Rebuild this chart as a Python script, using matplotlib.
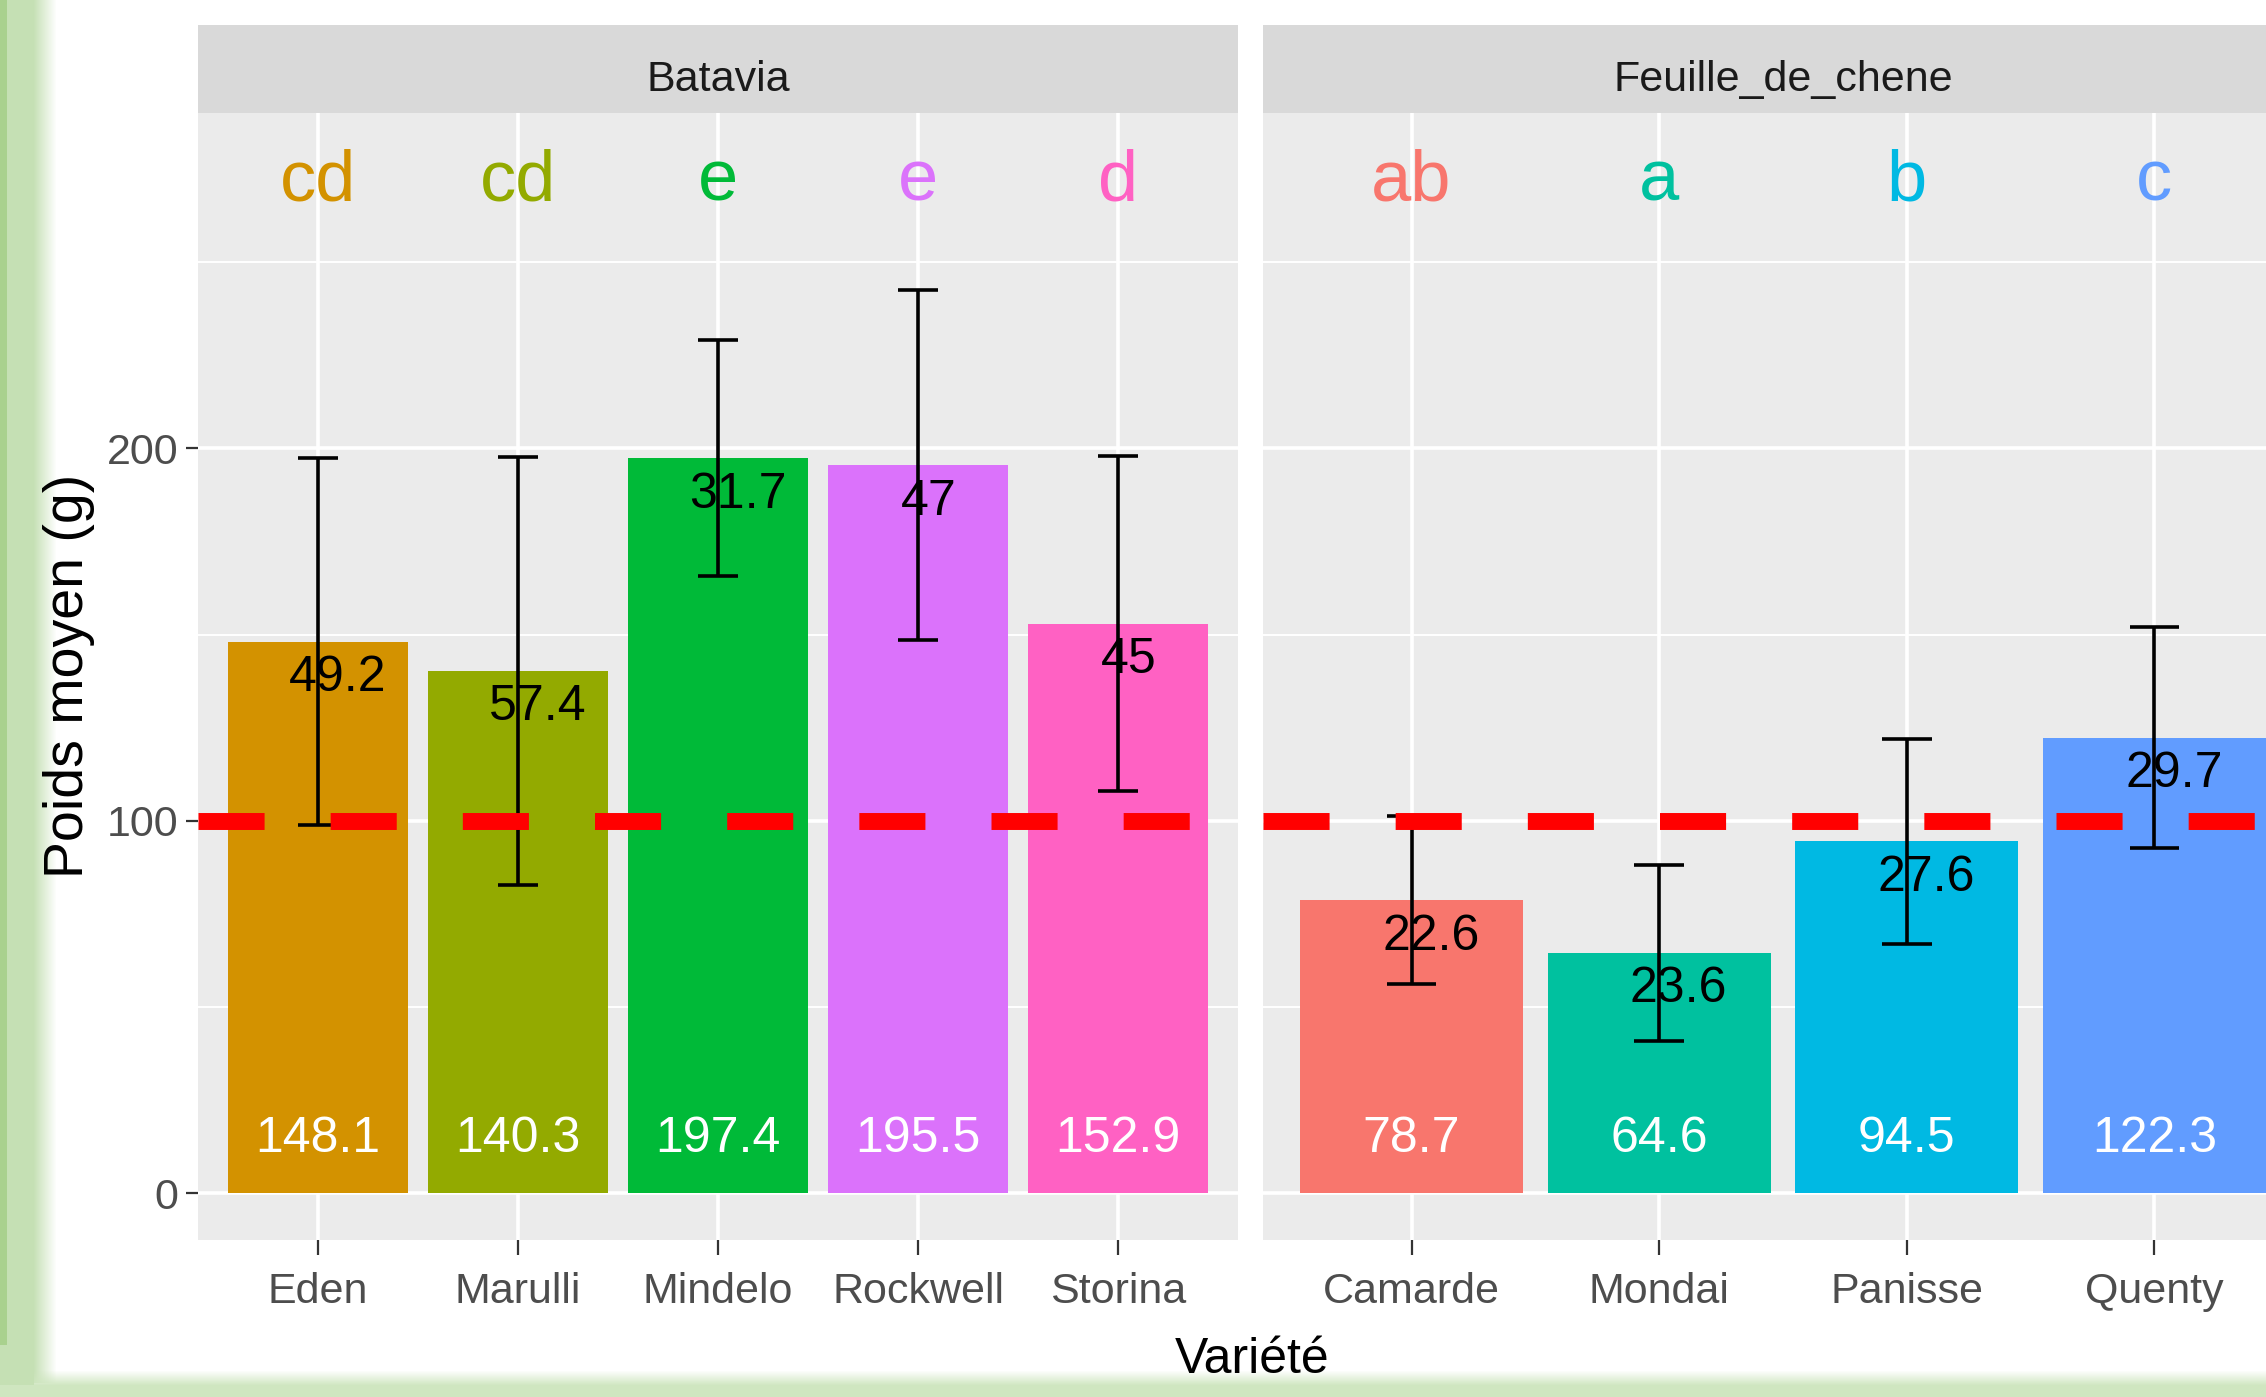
import matplotlib
matplotlib.use("Agg")
import matplotlib.pyplot as plt
from matplotlib.patches import Rectangle
from matplotlib.transforms import ScaledTranslation

plt.rcParams["font.family"] = ["Liberation Sans", "DejaVu Sans"]

# --- data -------------------------------------------------------------
batavia_varieties = ["Eden", "Marulli", "Mindelo", "Rockwell", "Storina"]
batavia_means = [148.1, 140.3, 197.4, 195.5, 152.9]
batavia_sds = [49.2, 57.4, 31.7, 47, 45]
batavia_letters = ["cd", "cd", "e", "e", "d"]

feuille_varieties = ["Camarde", "Mondai", "Panisse", "Quenty"]
feuille_means = [78.7, 64.6, 94.5, 122.3]
feuille_sds = [22.6, 23.6, 27.6, 29.7]
feuille_letters = ["ab", "a", "b", "c"]

threshold = 100

# ggplot default hue palette, alphabetical over the 9 varieties
variety_colors = {
    "Camarde": "#F8766D", "Eden": "#D39200", "Marulli": "#93AA00",
    "Mindelo": "#00BA38", "Mondai": "#00C19F", "Panisse": "#00B9E3",
    "Quenty": "#619CFF", "Rockwell": "#DB72FB", "Storina": "#FF61C3",
}

# --- layout (pixels of the 2266x1397 canvas) ---------------------------
W, H = 2266, 1397
fig = plt.figure(figsize=(W / 100, H / 100), dpi=100)


def fx(px):
    return px / W


def fy(px):
    return 1 - px / H


STRIP_TOP, PANEL_TOP, PANEL_BOTTOM = 25, 113, 1240
PANEL_W = 1040

# slide background decoration (green border of the screenshot)
deco = fig.add_axes([0, 0, 1, 1], zorder=-10)
deco.set_xlim(0, W)
deco.set_ylim(H, 0)
deco.axis("off")
light_green = "#C5E0B4"
deco.add_patch(Rectangle((0, 0), 34, H, color=light_green, lw=0))
deco.add_patch(Rectangle((0, 0), 7, 1345, color="#A9D18E", lw=0))
for i in range(22):
    deco.add_patch(Rectangle((34 + i, 0), 1, 1383, color=light_green,
                             alpha=1 - (i + 1) / 23, lw=0))
deco.add_patch(Rectangle((0, 1385), W, 12, color="#CFE6C0", lw=0))
for i in range(14):
    deco.add_patch(Rectangle((34, 1384 - i), W, 1, color="#CFE6C0",
                             alpha=1 - (i + 1) / 15, lw=0))

panels = [
    ("Batavia", 198, batavia_varieties, batavia_means, batavia_sds, batavia_letters),
    ("Feuille_de_chene", 1263, feuille_varieties, feuille_means, feuille_sds, feuille_letters),
]

sd_texts = []
for i, (group, x0, names, means, sds, letters) in enumerate(panels):
    ax = fig.add_axes([fx(x0), fy(PANEL_BOTTOM), fx(PANEL_W),
                       (PANEL_BOTTOM - PANEL_TOP) / H])
    n = len(names)
    xs = list(range(1, n + 1))
    cols = [variety_colors[v] for v in names]

    ax.set_facecolor("#EBEBEB")
    ax.set_xlim(0.4, n + 0.6)
    ax.set_ylim(-12.5, 290)
    for s in ax.spines.values():
        s.set_visible(False)

    ax.set_yticks([0, 100, 200])
    ax.set_yticks([50, 150, 250], minor=True)
    ax.set_xticks(xs)
    ax.set_xticklabels(names)
    ax.grid(which="major", color="white", lw=2.6)
    ax.grid(which="minor", axis="y", color="white", lw=1.4)
    ax.set_axisbelow(True)
    ax.tick_params(which="minor", length=0)
    ax.tick_params(which="major", length=9, width=1.6, color="#333333",
                   labelsize=31, labelcolor="#4D4D4D", pad=5)
    ax.tick_params(axis="x", length=11, pad=12)
    if i > 0:
        ax.tick_params(axis="y", left=False, labelleft=False)

    ax.bar(xs, means, width=0.9, color=cols, zorder=2)

    lows = [m - s for m, s in zip(means, sds)]
    highs = [m + s for m, s in zip(means, sds)]
    ax.vlines(xs, lows, highs, color="black", lw=2.6, zorder=4)
    ax.hlines(lows, [x - 0.1 for x in xs], [x + 0.1 for x in xs],
              color="black", lw=2.6, zorder=4)
    ax.hlines(highs, [x - 0.1 for x in xs], [x + 0.1 for x in xs],
              color="black", lw=2.6, zorder=4)

    ax.axhline(threshold, color="#FF0000", lw=12.2, dashes=(3.9, 3.9), zorder=6)

    for x, m, s, lt, c in zip(xs, means, sds, letters, cols):
        ax.text(x, 266.5, lt, color=c, fontsize=52, ha="center", va="baseline")
        ax.text(x, 11.2, f"{m:g}", color="white", fontsize=36,
                ha="center", va="baseline", zorder=3)
        t = ax.text(x, m - 13.3, f"{s:g}", color="black", fontsize=36,
                    ha="center", va="baseline", zorder=3)
        sd_texts.append((ax, t))

    sax = fig.add_axes([fx(x0), fy(PANEL_TOP), fx(PANEL_W),
                        (PANEL_TOP - STRIP_TOP) / H])
    sax.set_facecolor("#D9D9D9")
    sax.set_xticks([])
    sax.set_yticks([])
    for s in sax.spines.values():
        s.set_visible(False)
    sax.text(0.5, 0.25, group, transform=sax.transAxes, ha="center",
             va="baseline", fontsize=31, color="#1A1A1A")

# ggplot-like hjust ~0.3 for the sd labels
fig.canvas.draw()
renderer = fig.canvas.get_renderer()
for ax, t in sd_texts:
    w = t.get_window_extent(renderer).width
    t.set_transform(ax.transData + ScaledTranslation(0.2 * w / fig.dpi, 0,
                                                     fig.dpi_scale_trans))

fig.text(fx(69), fy(676), "Poids moyen (g)", rotation=90, ha="center",
         va="center", fontsize=40, color="black")
fig.text(fx(1252), fy(1360), "Variété", ha="center", va="center",
         fontsize=36, color="black")

fig.savefig("out.png", dpi=100)
